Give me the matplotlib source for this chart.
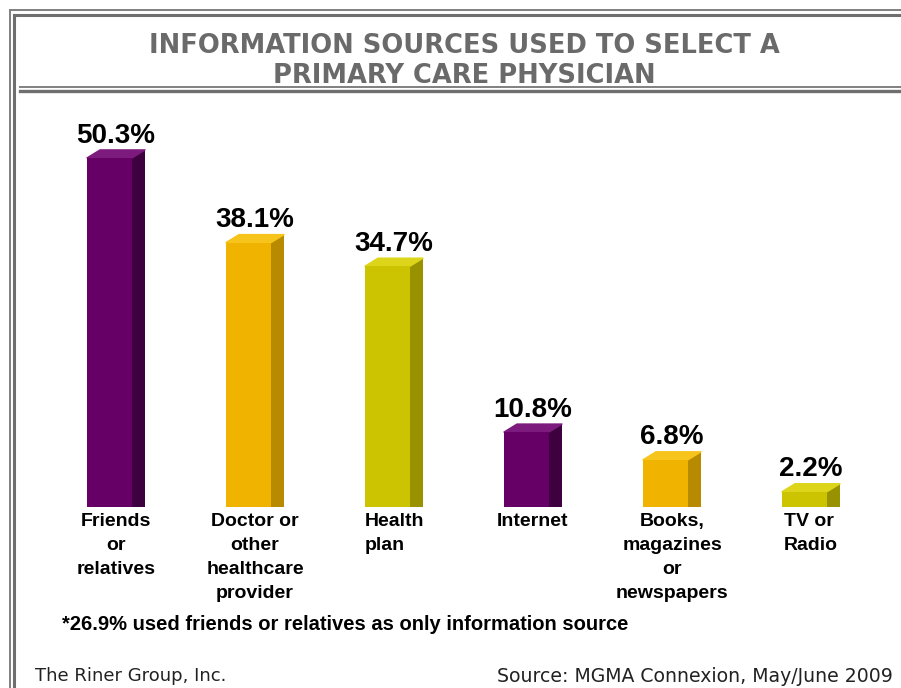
import matplotlib
matplotlib.use("Agg")
import matplotlib.pyplot as plt
from matplotlib.patches import Rectangle, Polygon
from matplotlib.lines import Line2D

categories = ["Friends\nor\nrelatives", "Doctor or\nother\nhealthcare\nprovider", "Health\nplan",
              "Internet", "Books,\nmagazines\nor\nnewspapers", "TV or\nRadio"]
values = [50.3, 38.1, 34.7, 10.8, 6.8, 2.2]
label_align = ["center", "center", "left", "center", "center", "left"]

front_cols = ["#660066", "#f0b400", "#ccc400"] * 2
side_cols = ["#3e003e", "#b88a00", "#989200"] * 2
top_cols = ["#7d1a7d", "#f6c41a", "#dcd51a"] * 2

W, H = 901, 688
fig = plt.figure(figsize=(W / 100, H / 100), dpi=100)

# background axes in pixel coordinates for frame lines
bg = fig.add_axes([0, 0, 1, 1])
bg.set_xlim(0, W)
bg.set_ylim(H, 0)
bg.axis("off")
gray = "#6f6f6f"
bg.add_line(Line2D([10, 10], [10, H], color="#808080", lw=1.4))
bg.add_line(Line2D([14, 14], [15, H], color=gray, lw=2.2))
bg.add_line(Line2D([10, W], [10, 10], color="#808080", lw=1.4))
bg.add_line(Line2D([14, W], [15, 15], color=gray, lw=2.2))
bg.add_line(Line2D([20, W], [87, 87], color="#808080", lw=1.4))
bg.add_line(Line2D([20, W], [90.5, 90.5], color=gray, lw=2.4))

bg.text(464, 61, "INFORMATION SOURCES USED TO SELECT A\nPRIMARY CARE PHYSICIAN", ha="center", va="center",
        fontsize=18.5, fontweight="bold", color="#6a6a6a", family="DejaVu Sans", linespacing=1.17)

bg.text(62, 625, "*26.9% used friends or relatives as only information source", ha="left", va="center",
        fontsize=14.5, fontweight="bold", family="Liberation Sans", color="black")
bg.text(35, 676, "The Riner Group, Inc.", ha="left", va="center", fontsize=13,
        family="DejaVu Sans", color="#222222")
bg.text(893, 676, "Source: MGMA Connexion, May/June 2009", ha="right", va="center", fontsize=13.6,
        family="DejaVu Sans", color="#222222")

# bar axes: 1 unit x = 139 px, y=0 at pixel 507, 6.94 px per %
ylim_top = 60
ax = fig.add_axes([46.5 / W, (H - 507) / H, 834 / W, ylim_top * 6.94 / H])
ax.set_xlim(-0.5, len(values) - 0.5)
ax.set_ylim(0, ylim_top)
ax.patch.set_alpha(0)
for s in ax.spines.values():
    s.set_visible(False)
ax.set_yticks([])

front_w = 45 / 139
side_w = 13 / 139
depth = 8 / 6.94
half = (front_w + side_w) / 2

for i, v in enumerate(values):
    x0 = i - half
    x1 = x0 + front_w
    ax.add_patch(Polygon([(x1, 0), (x1 + side_w, 0), (x1 + side_w, v + depth), (x1, v)],
                         closed=True, fc=side_cols[i], ec="none", joinstyle="round"))
    ax.add_patch(Polygon([(x0, v), (x1, v), (x1 + side_w, v + depth), (x0 + side_w, v + depth)],
                         closed=True, fc=top_cols[i], ec=top_cols[i], lw=1, joinstyle="round"))
    ax.add_patch(Rectangle((x0, 0), front_w, v, fc=front_cols[i], ec="none"))
    ax.annotate(f"{v}%", (i, v + depth), xytext=(0, 1), textcoords="offset points",
                ha="center", va="bottom", fontsize=20, fontweight="bold",
                family="Liberation Sans", color="black")

ax.set_xticks(range(len(values)))
ax.set_xticklabels(categories, fontsize=14, fontweight="bold", family="Liberation Sans",
                   linespacing=1.56, va="top")
for t, a in zip(ax.get_xticklabels(), label_align):
    t.set_multialignment(a)
ax.tick_params(axis="x", length=0, pad=4)

fig.savefig("out.png", dpi=100)
